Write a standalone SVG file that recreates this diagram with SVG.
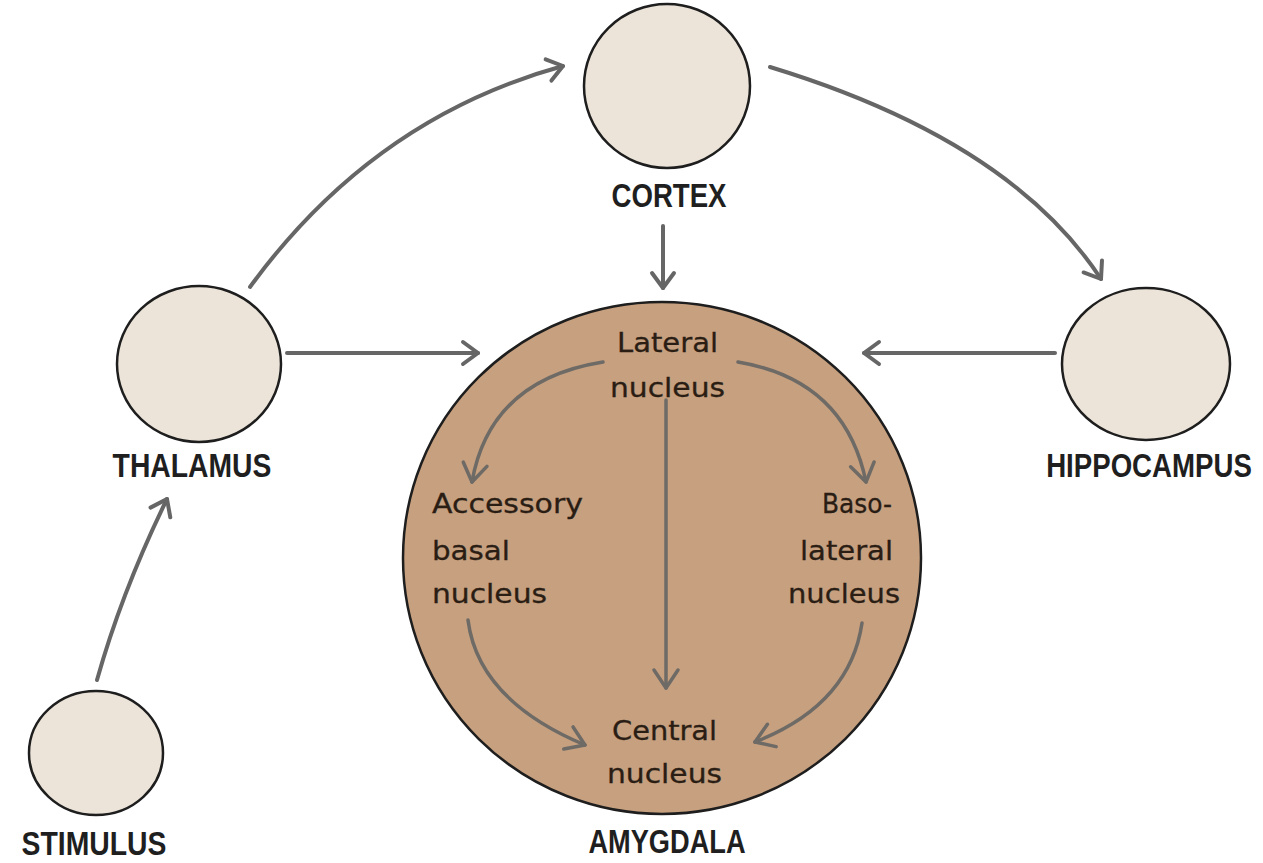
<svg xmlns="http://www.w3.org/2000/svg" width="1263" height="863" viewBox="0 0 1263 863">
<style>
.small{fill:#ece4d9;stroke:#1e1e1e;stroke-width:2.5}
.big{fill:#c6a07f;stroke:#1e1e1e;stroke-width:2.5}
.lbl{font-family:"Liberation Sans",Arial,sans-serif;font-weight:bold;font-size:34px;fill:#1f1f1f;text-anchor:middle}
.in{font-family:"DejaVu Sans","Liberation Sans",sans-serif;font-size:26px;fill:#2a1d14;stroke:#2a1d14;stroke-width:0.3}
.c{stroke:#666;stroke-width:4;fill:none;stroke-linecap:round;marker-end:url(#ah)}
.ci{stroke:#6e6a66;stroke-width:3.5;fill:none;stroke-linecap:round;marker-end:url(#ah2)}
</style>
<defs>
<marker id="ah" markerUnits="userSpaceOnUse" viewBox="-20 -14 24 28" markerWidth="24" markerHeight="28" refX="0" refY="0" orient="auto">
<path d="M-15,-11 L0,0 L-15,11" fill="none" stroke="#666" stroke-width="4" stroke-linecap="round" stroke-linejoin="round"/>
</marker>
<marker id="ah2" markerUnits="userSpaceOnUse" viewBox="-24 -16 28 32" markerWidth="28" markerHeight="32" refX="0" refY="0" orient="auto">
<path d="M-18,-12 L0,0 L-18,12" fill="none" stroke="#6e6a66" stroke-width="3.5" stroke-linecap="round" stroke-linejoin="round"/>
</marker>
</defs>
<rect width="1263" height="863" fill="#ffffff"/>
<g id="amygdala">
<ellipse class="big" cx="662" cy="558" rx="259" ry="256"/>
<text class="lbl" transform="translate(667,853) scale(0.81,1)" x="0" y="0" textLength="194" lengthAdjust="spacingAndGlyphs">AMYGDALA</text>
</g>
<g id="cortex">
<ellipse class="small" cx="667" cy="86" rx="83" ry="82"/>
<text class="lbl" transform="translate(669,207) scale(0.81,1)" x="0" y="0" textLength="142" lengthAdjust="spacingAndGlyphs">CORTEX</text>
</g>
<g id="thalamus">
<ellipse class="small" cx="199" cy="364" rx="82" ry="78"/>
<text class="lbl" transform="translate(192,477) scale(0.81,1)" x="0" y="0" textLength="196" lengthAdjust="spacingAndGlyphs">THALAMUS</text>
</g>
<g id="hippocampus">
<ellipse class="small" cx="1146" cy="364" rx="84" ry="76"/>
<text class="lbl" transform="translate(1149,477) scale(0.81,1)" x="0" y="0" textLength="254" lengthAdjust="spacingAndGlyphs">HIPPOCAMPUS</text>
</g>
<g id="stimulus">
<ellipse class="small" cx="96" cy="753" rx="67" ry="62"/>
<text class="lbl" transform="translate(94,855) scale(0.81,1)" x="0" y="0" textLength="179" lengthAdjust="spacingAndGlyphs">STIMULUS</text>
</g>
<g id="lateral-nucleus">
<text class="in" x="617" y="352" textLength="101" lengthAdjust="spacingAndGlyphs">Lateral</text>
<text class="in" x="610" y="397" textLength="115" lengthAdjust="spacingAndGlyphs">nucleus</text>
</g>
<g id="accessory-basal-nucleus">
<text class="in" x="432" y="513" textLength="151" lengthAdjust="spacingAndGlyphs">Accessory</text>
<text class="in" x="432" y="560" textLength="78" lengthAdjust="spacingAndGlyphs">basal</text>
<text class="in" x="432" y="603" textLength="115" lengthAdjust="spacingAndGlyphs">nucleus</text>
</g>
<g id="basolateral-nucleus">
<text class="in" x="822" y="513" textLength="70" lengthAdjust="spacingAndGlyphs">Baso-</text>
<text class="in" x="800" y="560" textLength="93" lengthAdjust="spacingAndGlyphs">lateral</text>
<text class="in" x="788" y="603" textLength="112" lengthAdjust="spacingAndGlyphs">nucleus</text>
</g>
<g id="central-nucleus">
<text class="in" x="612" y="740" textLength="105" lengthAdjust="spacingAndGlyphs">Central</text>
<text class="in" x="607" y="783" textLength="115" lengthAdjust="spacingAndGlyphs">nucleus</text>
</g>
<g id="connectors">
<path class="c" d="M250,287 Q373,118 563,66"/>
<path class="c" d="M770,67 Q1010,140 1101,279"/>
<path class="c" d="M97,680 Q122,591 167,499"/>
<path class="c" d="M287,353 L478,353"/>
<path class="c" d="M1055,353 L864,353"/>
<path class="c" d="M663,226 L663,288"/>
<path class="ci" d="M603,362 Q490,380 472,482"/>
<path class="ci" d="M738,362 Q845,380 866,482"/>
<path class="ci" d="M666,400 L666,688"/>
<path class="ci" d="M468,620 Q478,700 585,745"/>
<path class="ci" d="M862,623 Q850,705 755,742"/>
</g>
</svg>
